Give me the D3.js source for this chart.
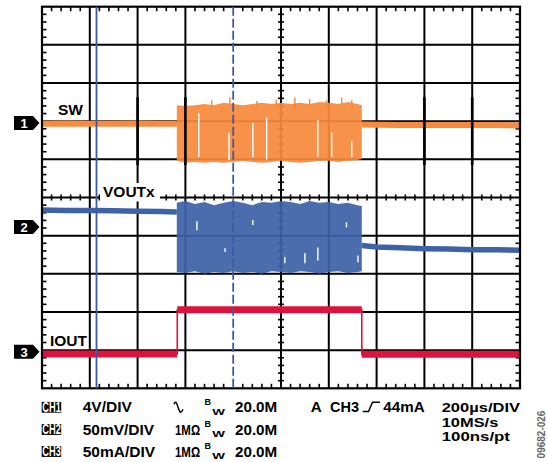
<!DOCTYPE html>
<html><head><meta charset="utf-8">
<script src="https://cdn.jsdelivr.net/npm/d3@7"></script>
<style>
body{margin:0;background:#fff}
svg{display:block}
text{font-family:"Liberation Sans",Arial,Helvetica,sans-serif;font-weight:bold}
</style>
</head><body>
<svg id="c" width="547" height="462"></svg>
<script>
// ---------------- data (divisions; x: 0..10 time divs, y: 0..10 divs from bottom) ----------------
const gridDivs = [0,1,2,3,4,5,6,7,8,9,10];
const channels = ["1","2","3"];
const markerLevels = [6.95, 4.23, 0.96];
const cursorPositions = [1.14, 4.0];
const cursorDashed = [false, true];

// SW (CH1) quiet segments
const swQuietT1 = [0, 0.5, 1.0, 1.5, 2.0, 2.5, 2.82];
const swQuietV1 = [6.93, 6.94, 6.93, 6.93, 6.94, 6.93, 6.93];
const swQuietT2 = [6.69, 7.5, 8.5, 9.5, 10];
const swQuietV2 = [6.91, 6.90, 6.90, 6.90, 6.89];

// burst envelope sample times (shared by SW and VOUTx)
const burstT      = [2.82, 3.0, 3.2, 3.4, 3.6, 3.8, 4.0, 4.2, 4.4, 4.6, 4.8, 5.0, 5.2, 5.4, 5.6, 5.8, 6.0, 6.2, 6.4, 6.6, 6.69];
const swBurstTop  = [7.42, 7.40, 7.42, 7.45, 7.42, 7.48, 7.45, 7.42, 7.45, 7.48, 7.45, 7.48, 7.45, 7.48, 7.45, 7.50, 7.48, 7.45, 7.50, 7.45, 7.42];
const swBurstBot  = [5.96, 5.91, 5.93, 5.91, 5.93, 5.91, 5.93, 5.96, 5.93, 5.91, 5.93, 5.96, 5.93, 5.91, 5.93, 5.96, 5.96, 5.93, 5.96, 5.98, 6.01];
const swSpikeT    = [3.55, 3.93, 4.50, 4.90, 5.29, 5.60, 5.95, 6.27, 6.48];
const swSpikeV    = [7.55, 7.62, 7.53, 7.57, 7.62, 7.58, 7.54, 7.62, 7.55];
const swGapT      = [3.28, 3.91, 4.41, 4.70, 5.77, 6.06, 6.48];
const swGapTop    = [7.21, 6.70, 6.95, 7.10, 7.03, 6.70, 6.48];
const swGapBot    = [6.06, 5.98, 6.06, 6.00, 6.06, 6.06, 6.06];

// VOUTx (CH2)
const voQuietT1 = [0, 0.5, 1.0, 1.5, 2.0, 2.5, 2.82];
const voQuietV1 = [4.67, 4.66, 4.66, 4.65, 4.64, 4.63, 4.62];
const voQuietT2 = [6.69, 7.0, 7.5, 8.0, 8.5, 9.0, 9.5, 10];
const voQuietV2 = [3.74, 3.70, 3.68, 3.66, 3.65, 3.63, 3.63, 3.62];
const voBurstTop = [4.86, 4.91, 4.83, 4.88, 4.80, 4.86, 4.91, 4.86, 4.80, 4.88, 4.86, 4.91, 4.88, 4.83, 4.91, 4.86, 4.88, 4.83, 4.86, 4.80, 4.78];
const voBurstBot = [3.05, 3.02, 3.07, 3.00, 3.05, 3.02, 3.07, 3.02, 3.05, 3.00, 3.07, 3.05, 3.02, 3.07, 3.05, 3.00, 3.05, 3.07, 3.02, 3.05, 3.07];
const voGapT   = [3.24, 3.83, 4.41, 5.08, 5.50, 5.77, 6.37, 6.61];
const voGapTop = [4.38, 3.67, 4.41, 3.44, 3.54, 3.69, 4.35, 3.48];
const voGapBot = [4.14, 3.57, 4.28, 3.28, 3.28, 3.35, 4.22, 3.30];

// IOUT (CH3)
const ioT = [0, 2.83, 2.83, 6.69, 6.69, 10];
const ioV = [0.90, 0.90, 2.06, 2.06, 0.89, 0.89];

// labels
const traceLabels = ["SW", "VOUTx", "IOUT"];
const chNames = ["CH1", "CH2", "CH3"];
const chScales = ["4V/DIV", "50mV/DIV", "50mA/DIV"];
const chCoupling = ["", "1M\u03A9", "1M\u03A9"];
const chBandwidth = ["20.0M", "20.0M", "20.0M"];
const triggerText = ["A", "CH3", "44mA"];
const timebaseText = ["200\u00B5s/DIV", "10MS/s", "100ns/pt"];
const figureId = "09682-026";

// ---------------- colours ----------------
const ORANGE = "#F78A3C", BLUE = "#3D62A8", RED = "#DA143C", CURSOR = "#3B5BA5";

const svg = d3.select("#c");
const x = d3.scaleLinear().domain([0, 10]).range([42, 520]);
const y = d3.scaleLinear().domain([0, 10]).range([388.3, 6.7]);

// ---------------- grid ----------------
const grid = svg.append("g");
grid.selectAll("line.v").data(gridDivs.slice(1, -1).filter(d => !cursorPositions.some((c,i)=>cursorDashed[i] && Math.abs(c-d)<0.05)))
  .join("line").attr("class","v")
  .attr("x1", d => x(d)).attr("x2", d => x(d)).attr("y1", y(10)).attr("y2", y(0))
  .attr("stroke", "#000").attr("stroke-width", 2);
grid.selectAll("line.h").data(gridDivs.slice(1, -1)).join("line").attr("class","h")
  .attr("y1", d => y(d)).attr("y2", d => y(d)).attr("x1", x(0)).attr("x2", x(10))
  .attr("stroke", "#000").attr("stroke-width", 2);

const minor = d3.range(1, 50).map(i => i / 5).filter(v => Math.abs(v - Math.round(v)) > 1e-6);
const tickSpecs = [];
minor.forEach(m => {
  tickSpecs.push([x(0), y(m), x(0) + 4.5, y(m)]);
  tickSpecs.push([x(10) - 4.5, y(m), x(10), y(m)]);
  tickSpecs.push([x(m), y(10), x(m), y(10) + 4.5]);
  tickSpecs.push([x(m), y(0) - 4.5, x(m), y(0)]);
  tickSpecs.push([x(m), y(5) - 3, x(m), y(5) + 3]);
  tickSpecs.push([x(5) - 3, y(m), x(5) + 3, y(m)]);
});
grid.selectAll("line.t").data(tickSpecs).join("line").attr("class","t")
  .attr("x1", d => d[0]).attr("y1", d => d[1]).attr("x2", d => d[2]).attr("y2", d => d[3])
  .attr("stroke", "#000").attr("stroke-width", 1.6);

// ---------------- traces ----------------
const line = d3.line().x(d => x(d[0])).y(d => y(d[1]));
const zip = (a, b) => a.map((v, i) => [v, b[i]]);
const area = d3.area().x(d => x(d[0])).y0(d => y(d[2])).y1(d => y(d[1]));

function burst(g, top, bot, color, gapT, gapTop, gapBot, spikeT, spikeV) {
  g.append("path").datum(burstT.map((t, i) => [t, top[i], bot[i]]))
    .attr("d", area).attr("fill", color).attr("opacity", 0.93);
  if (spikeT) g.selectAll("line.sp").data(zip(spikeT, spikeV)).join("line")
    .attr("x1", d => x(d[0])).attr("x2", d => x(d[0])).attr("y1", d => y(d[1])).attr("y2", y(7.3))
    .attr("stroke", color).attr("stroke-width", 1.5);
  g.selectAll("line.gp").data(gapT.map((t, i) => [t, gapTop[i], gapBot[i]])).join("line")
    .attr("x1", d => x(d[0])).attr("x2", d => x(d[0])).attr("y1", d => y(d[1])).attr("y2", d => y(d[2]))
    .attr("stroke", "#fff").attr("stroke-width", 1.4);
}

const sw = svg.append("g");
[zip(swQuietT1, swQuietV1), zip(swQuietT2, swQuietV2)].forEach(p =>
  sw.append("path").datum(p).attr("d", line).attr("fill", "none").attr("stroke", ORANGE).attr("stroke-width", 6));
burst(sw, swBurstTop, swBurstBot, ORANGE, swGapT, swGapTop, swGapBot, swSpikeT, swSpikeV);

const vo = svg.append("g");
[zip(voQuietT1, voQuietV1), zip(voQuietT2, voQuietV2)].forEach(p =>
  vo.append("path").datum(p).attr("d", line).attr("fill", "none").attr("stroke", BLUE).attr("stroke-width", 5.5));
burst(vo, voBurstTop, voBurstBot, BLUE, voGapT, voGapTop, voGapBot);

const io = svg.append("g");
const ioPts = zip(ioT, ioV);
io.append("path").datum(ioPts).attr("d", line).attr("fill", "none").attr("stroke", RED).attr("stroke-width", 1.6);
for (let i = 0; i < ioPts.length - 1; i += 2) {
  io.append("path").datum([ioPts[i], ioPts[i + 1]]).attr("d", line).attr("fill", "none")
    .attr("stroke", RED).attr("stroke-width", 7);
}

// graticule segments drawn over the traces
const overX = [2, 3, 8, 9];
const overSpans = [[5.85, 7.63]];
const overSegs = [];
overX.forEach(d => overSpans.forEach(s => overSegs.push([d, s[0], s[1]])));
svg.selectAll("line.ov").data(overSegs).join("line").attr("class","ov")
  .attr("x1", d => x(d[0])).attr("x2", d => x(d[0])).attr("y1", d => y(d[1])).attr("y2", d => y(d[2]))
  .attr("stroke", "#000").attr("stroke-width", 2.6);

// ---------------- border ----------------
svg.append("rect").attr("x", x(0)).attr("y", y(10)).attr("width", x(10) - x(0)).attr("height", y(0) - y(10))
  .attr("fill", "none").attr("stroke", "#000").attr("stroke-width", 2.2);

// ---------------- cursors ----------------
svg.selectAll("line.cur").data(cursorPositions).join("line").attr("class","cur")
  .attr("x1", d => x(d)).attr("x2", d => x(d)).attr("y1", y(10)).attr("y2", y(0))
  .attr("stroke", CURSOR).attr("stroke-width", 1.8)
  .attr("stroke-dasharray", (d, i) => cursorDashed[i] ? "9,3" : null);

// ---------------- channel markers ----------------
const mk = svg.selectAll("g.mk").data(channels).join("g").attr("class","mk")
  .attr("transform", (d, i) => `translate(0,${y(markerLevels[i])})`);
mk.append("path").attr("d", "M14,-7H33L39.5,0L33,7H14Z").attr("fill", "#000");
mk.append("text").attr("x", 24).attr("y", 5).attr("text-anchor", "middle")
  .attr("fill", "#fff").attr("font-size", 13).text(d => d);

// ---------------- trace labels ----------------
svg.append("rect").attr("x", 100).attr("y", 183).attr("width", 60).attr("height", 18.5).attr("fill", "#fff");
const labelPos = [[58, 115], [103, 197], [50, 346]];
svg.selectAll("text.tl").data(traceLabels).join("text").attr("class","tl")
  .attr("x", (d, i) => labelPos[i][0]).attr("y", (d, i) => labelPos[i][1])
  .attr("font-size", 15.5).attr("fill", "#000").text(d => d);

// ---------------- footer ----------------
const rowY = [412.3, 434.5, 456.5];
const foot = svg.append("g");
chNames.forEach((n, i) => {
  foot.append("rect").attr("x", 41.7).attr("y", rowY[i] - 10.4).attr("width", 19.5).attr("height", 10.8).attr("fill", "#000");
  foot.append("text").attr("transform", `translate(42.2,${rowY[i] - 0.2}) scale(0.655,1)`)
    .attr("font-size", 14.2).attr("fill", "#fff").text(n);
  foot.append("text").attr("x", 82.7).attr("y", rowY[i]).attr("font-size", 15.5).text(chScales[i]);
  if (chCoupling[i]) foot.append("text").attr("transform", `translate(175,${rowY[i]}) scale(0.74,1)`)
    .attr("font-size", 15.5).text(chCoupling[i]);
  foot.append("text").attr("x", 204.5).attr("y", rowY[i] - 7.5).attr("font-size", 9).text("B");
  foot.append("text").attr("transform", `translate(212.3,${rowY[i] + 2.7}) scale(1.5,1)`)
    .attr("font-size", 9).text("W");
  foot.append("text").attr("x", 235).attr("y", rowY[i]).attr("font-size", 15.2).text(chBandwidth[i]);
});
// AC symbol
const r0 = rowY[0];
foot.append("path").attr("d", `M174,${r0-8} Q175.5,${r0-12} 177,${r0-8} L179.5,${r0-1} Q180.5,${r0+1.5} 183,${r0-3}`)
  .attr("fill", "none").attr("stroke", "#000").attr("stroke-width", 1.4);
// trigger
foot.append("text").attr("x", 310.7).attr("y", r0).attr("font-size", 15.2).text(triggerText[0]);
foot.append("text").attr("transform", `translate(330,${r0}) scale(0.955,1)`).attr("font-size", 15.2).text(triggerText[1]);
foot.append("path").attr("d", `M362.7,${r0-0.8}H368.5L372.5,${r0-10}H380`)
  .attr("fill", "none").attr("stroke", "#000").attr("stroke-width", 1.5);
foot.append("text").attr("x", 383.3).attr("y", r0).attr("font-size", 15.2).text(triggerText[2]);
const tbY = [412.3, 426.8, 441.3];
const tbW = [78.3, 56.6, 68.3];
timebaseText.forEach((t, i) => foot.append("text").attr("x", 441.7).attr("y", tbY[i]).attr("font-size", 13)
  .attr("textLength", tbW[i]).attr("lengthAdjust", "spacingAndGlyphs").text(t));

// figure id
svg.append("text").attr("transform", "translate(544.5,434.5) rotate(-90)").attr("text-anchor", "middle")
  .attr("font-size", 10).attr("font-weight", "normal").attr("fill", "#666").text(figureId);
</script>
</body></html>
